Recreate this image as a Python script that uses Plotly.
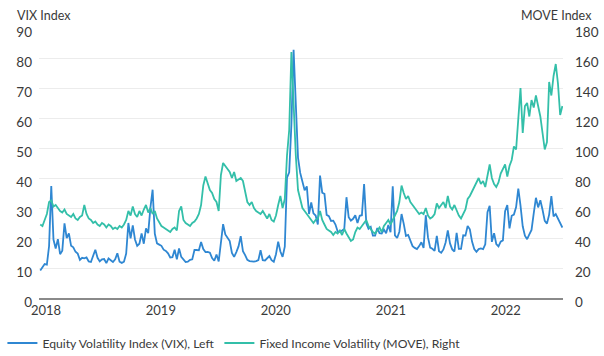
import pandas as pd
import plotly.graph_objects as go

# Weekly (Friday) readings
vix_2018 = [9.2, 10.2, 11.3, 11.1, 17.3, 37.3, 19.5, 16.5, 19.6, 14.6, 15.8, 24.9, 20.0,
            21.5, 17.4, 16.9, 15.4, 14.8, 12.7, 13.4, 13.2, 13.5, 12.2, 12.0, 13.8, 16.1,
            13.4, 12.2, 12.9, 13.0, 11.6, 13.2, 12.6, 12.0, 12.9, 14.9, 12.1, 11.7, 12.1,
            14.8, 25.0, 19.9, 24.2, 19.5, 17.4, 18.1, 21.5, 18.1, 23.2, 21.6, 30.1, 36.1]
move_2018 = [49, 48, 52, 56, 64, 65, 61, 62, 60, 58, 57, 59, 56,
             55, 54, 56, 53, 52, 54, 55, 62, 56, 53, 52, 50, 51,
             49, 48, 50, 49, 47, 49, 48, 46, 47, 46, 48, 47, 49,
             52, 58, 55, 61, 56, 54, 58, 55, 59, 62, 57, 60, 56]

vix_2019 = [21.4, 18.2, 17.8, 17.4, 16.1, 15.7, 14.9, 13.5, 13.6, 16.1, 12.9, 16.5, 13.7,
            12.8, 12.0, 12.1, 12.7, 12.9, 16.0, 16.0, 15.9, 18.7, 16.3, 15.3, 15.4, 15.1,
            13.3, 12.4, 14.5, 12.2, 17.6, 24.6, 21.2, 19.9, 19.0, 15.0, 13.7, 15.3, 17.2,
            20.6, 15.6, 14.3, 12.7, 12.3, 12.1, 12.1, 12.3, 12.6, 15.9, 12.6, 12.5, 13.4]
move_2019 = [58, 53, 50, 48, 47, 46, 45, 44, 46, 47, 45, 58, 61,
             52, 50, 49, 48, 50, 51, 53, 56, 62, 75, 81, 77, 72,
             70, 66, 64, 58, 82, 90, 88, 86, 84, 80, 84, 78, 79,
             80, 78, 72, 64, 62, 64, 60, 58, 57, 56, 58, 55, 53]

vix_2020 = [14.0, 12.6, 12.1, 14.6, 18.8, 15.5, 13.7, 17.1, 40.1, 41.9, 57.8, 82.7, 65.5,
            46.8, 41.7, 38.2, 35.9, 37.2, 28.0, 31.9, 28.2, 27.5, 24.5, 40.8, 35.1, 34.7,
            27.7, 27.3, 25.7, 25.8, 24.5, 22.2, 22.1, 22.5, 23.0, 33.6, 26.9, 25.8, 26.4,
            27.6, 25.0, 27.4, 27.6, 38.0, 24.9, 23.1, 23.7, 20.8, 20.8, 23.3, 21.6, 21.5]
move_2020 = [56, 52, 51, 55, 62, 68, 60, 66, 95, 112, 164, 125, 95,
             72, 66, 60, 58, 56, 54, 52, 50, 52, 53, 58, 52, 49,
             46, 45, 44, 42, 44, 43, 45, 42, 46, 43, 40, 38, 39,
             44, 47, 46, 48, 50, 52, 48, 46, 44, 43, 45, 47, 44]

vix_2021 = [22.8, 21.6, 24.3, 21.9, 37.2, 20.9, 20.0, 22.1, 28.0, 24.7, 20.7, 21.0, 18.9,
            17.3, 16.7, 16.3, 17.3, 18.6, 16.7, 27.6, 20.2, 16.8, 16.4, 15.7, 20.7, 15.6,
            15.1, 16.2, 18.5, 22.5, 18.2, 16.2, 15.5, 21.7, 16.4, 16.4, 20.9, 20.8, 24.0,
            22.9, 18.8, 16.3, 15.4, 16.3, 16.5, 16.3, 17.9, 28.6, 30.7, 18.7, 21.6, 18.0, 17.2]
move_2021 = [48, 50, 52, 49, 52, 55, 58, 64, 75, 70, 66, 68, 64,
             62, 60, 58, 56, 57, 56, 60, 55, 53, 54, 56, 63, 60,
             62, 64, 60, 68, 61, 59, 62, 58, 55, 53, 56, 59, 66,
             68, 71, 74, 78, 80, 76, 78, 74, 82, 89, 80, 76, 74, 77]

vix_2022 = [18.8, 19.2, 28.9, 31.0, 23.2, 27.4, 27.8, 30.3, 36.5, 30.8, 23.9, 20.8,
            19.6, 21.2, 22.7, 28.2, 33.4, 30.2, 32.6, 29.4, 25.7, 24.8, 27.8, 34.0, 27.2,
            28.0, 26.5, 25.5, 23.5]
move_2022 = [83, 86, 89, 81, 88, 92, 101, 99, 121, 140, 110, 128,
             130, 121, 132, 127, 135, 128, 121, 110, 99, 104, 144, 135, 148,
             156, 143, 122, 128]

year_starts = ["2018-01-05", "2019-01-04", "2020-01-03", "2021-01-01", "2022-01-07"]
vix_years = [vix_2018, vix_2019, vix_2020, vix_2021, vix_2022]
move_years = [move_2018, move_2019, move_2020, move_2021, move_2022]

dates, vix, move = [], [], []
for start, v, m in zip(year_starts, vix_years, move_years):
    dates += list(pd.date_range(start, periods=len(v), freq="W-FRI"))
    vix += v
    move += m

year_ticks = ["2018-01-01", "2019-01-01", "2020-01-01", "2021-01-01", "2022-01-01"]
year_labels = ["2018", "2019", "2020", "2021", "2022"]
left_ticks = [0, 10, 20, 30, 40, 50, 60, 70, 80, 90]
right_ticks = [0, 20, 40, 60, 80, 100, 120, 140, 160, 180]

BLUE = "#2f87d2"
TEAL = "#33bfa9"
TXT = "#3a3a3a"
FONT = "Lato"

fig = go.Figure()
fig.add_trace(go.Scatter(x=dates, y=move, mode="lines", name="Fixed Income Volatility (MOVE), Right",
                         line=dict(color=TEAL, width=1.8), yaxis="y2"))
fig.add_trace(go.Scatter(x=dates, y=vix, mode="lines", name="Equity Volatility Index (VIX), Left",
                         line=dict(color=BLUE, width=1.8), yaxis="y"))

fig.update_layout(
    width=604, height=356,
    margin=dict(l=39, r=41, t=28, b=58, autoexpand=False),
    paper_bgcolor="white", plot_bgcolor="white",
    font=dict(family=FONT, size=13, color=TXT),
    showlegend=True,
    legend=dict(orientation="h", x=0.004, xref="container", y=-0.1667, yref="paper",
                xanchor="left", yanchor="middle", traceorder="reversed",
                font=dict(family=FONT, size=12.2, color=TXT), bgcolor="rgba(0,0,0,0)"),
    xaxis=dict(type="date", range=["2018-01-01", "2022-07-24"], automargin=False,
               tickvals=year_ticks, ticktext=year_labels, ticklabelshift=7,
               showgrid=False, showline=True, linecolor="#8a8a8a", linewidth=1.5,
               zeroline=False, ticks="", tickfont=dict(size=13, color=TXT)),
    yaxis=dict(range=[0, 90], tickvals=left_ticks, showgrid=True, gridcolor="#ececec",
               gridwidth=1.2, zeroline=False, showline=False, ticks="", automargin=False,
               ticklabelshift=4, ticklabelstandoff=6, tickfont=dict(size=13.5, color=TXT)),
    yaxis2=dict(range=[0, 180], tickvals=right_ticks, overlaying="y", side="right",
                showgrid=False, zeroline=False, showline=False, ticks="", automargin=False,
                ticklabelshift=4, ticklabelstandoff=11, tickfont=dict(size=13.5, color=TXT)),
    annotations=[
        dict(text="VIX Index", xref="paper", yref="paper", x=0, y=1, xanchor="left",
             yanchor="middle", xshift=-24, yshift=13, showarrow=False,
             font=dict(family=FONT, size=12.5, color=TXT)),
        dict(text="MOVE Index", xref="paper", yref="paper", x=1, y=1, xanchor="right",
             yanchor="middle", xshift=31, yshift=13, showarrow=False,
             font=dict(family=FONT, size=12.5, color=TXT)),
    ],
)

fig.write_html("out.html", config={"displayModeBar": False},
               post_script="document.body.style.margin='0';")
